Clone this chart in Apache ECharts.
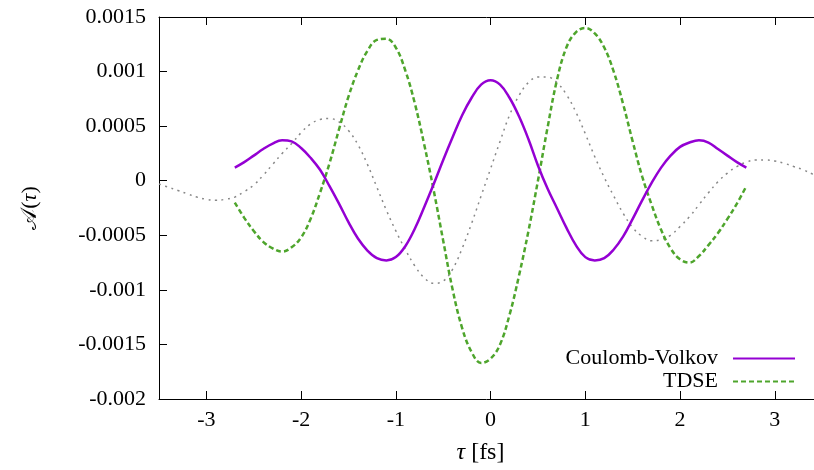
<!DOCTYPE html>
<html>
<head>
<meta charset="utf-8">
<script src="https://cdn.jsdelivr.net/npm/echarts@6/dist/echarts.min.js"></script>
<style>html,body{margin:0;padding:0;background:#fff}#c{width:814px;height:470px}</style>
</head>
<body>
<div id="c"></div>
<script>
// x tick labels and y ticks
const xTicks = [-3, -2, -1, 0, 1, 2, 3];
const yTicks = [-0.002, -0.0015, -0.001, -0.0005, 0, 0.0005, 0.001, 0.0015];

// Coulomb-Volkov
const tauCV = [-2.7,-2.6,-2.5,-2.4,-2.3,-2.2,-2.1,-2.0,-1.9,-1.8,-1.7,-1.6,-1.5,-1.4,-1.3,-1.2,-1.1,-1.0,-0.9,-0.8,-0.7,-0.6,-0.5,-0.4,-0.3,-0.2,-0.1,0,0.1,0.2,0.3,0.4,0.5,0.6,0.7,0.8,0.9,1.0,1.1,1.2,1.3,1.4,1.5,1.6,1.7,1.8,1.9,2.0,2.1,2.2,2.3,2.4,2.5,2.6,2.7];
const cv = [0.00012,0.00017,0.00023,0.00029,0.00034,0.00037,0.00036,0.00030,0.00021,0.00010,-0.00005,-0.00021,-0.00038,-0.00053,-0.00064,-0.00071,-0.00073,-0.00070,-0.00060,-0.00044,-0.00024,-0.00003,0.00019,0.00040,0.00060,0.00076,0.00088,0.00092,0.00088,0.00076,0.00059,0.00038,0.00014,-0.00007,-0.00025,-0.00043,-0.00059,-0.00070,-0.00073,-0.00071,-0.00063,-0.00051,-0.00035,-0.00018,-0.00002,0.00012,0.00023,0.00031,0.00035,0.00037,0.00035,0.00029,0.00023,0.00017,0.00012];

// TDSE
const tauTDSE = [-2.7,-2.6,-2.5,-2.4,-2.3,-2.2,-2.1,-2.0,-1.9,-1.8,-1.7,-1.6,-1.5,-1.4,-1.3,-1.2,-1.1,-1.0,-0.9,-0.8,-0.7,-0.6,-0.5,-0.4,-0.3,-0.2,-0.1,0,0.1,0.2,0.3,0.4,0.5,0.6,0.7,0.8,0.9,1.0,1.1,1.2,1.3,1.4,1.5,1.6,1.7,1.8,1.9,2.0,2.1,2.2,2.3,2.4,2.5,2.6,2.7];
const tdse = [-0.00020,-0.00034,-0.00046,-0.00056,-0.00062,-0.00065,-0.00061,-0.00052,-0.00035,-0.00011,0.00016,0.00047,0.00077,0.00101,0.00119,0.00129,0.00130,0.00122,0.00101,0.00071,0.00033,-0.00009,-0.00055,-0.00100,-0.00135,-0.00157,-0.00167,-0.00163,-0.00150,-0.00123,-0.00087,-0.00046,0.00000,0.00048,0.00092,0.00122,0.00136,0.00140,0.00135,0.00122,0.00100,0.00070,0.00036,0.00004,-0.00022,-0.00045,-0.00062,-0.00072,-0.00075,-0.00069,-0.00059,-0.00048,-0.00035,-0.00021,-0.00005];

// reference (grey dotted) curve
const tauRef = [-3.5,-3.4,-3.3,-3.2,-3.1,-3.0,-2.9,-2.8,-2.7,-2.6,-2.5,-2.4,-2.3,-2.2,-2.1,-2.0,-1.9,-1.8,-1.7,-1.6,-1.5,-1.4,-1.3,-1.2,-1.1,-1.0,-0.9,-0.8,-0.7,-0.6,-0.5,-0.4,-0.3,-0.2,-0.1,0,0.1,0.2,0.3,0.4,0.5,0.6,0.7,0.8,0.9,1.0,1.1,1.2,1.3,1.4,1.5,1.6,1.7,1.8,1.9,2.0,2.1,2.2,2.3,2.4,2.5,2.6,2.7,2.8,2.9,3.0,3.1,3.2,3.3,3.4,3.5];
const ref = [-0.00003,-0.00006,-0.00009,-0.00012,-0.00015,-0.00017,-0.00018,-0.00017,-0.00015,-0.00010,-0.00004,0.00005,0.00015,0.00025,0.00034,0.00044,0.00052,0.00056,0.00057,0.00054,0.00046,0.00033,0.00015,-0.00006,-0.00027,-0.00046,-0.00063,-0.00078,-0.00089,-0.00094,-0.00092,-0.00081,-0.00062,-0.00039,-0.00014,0.00011,0.00036,0.00060,0.00078,0.00090,0.00095,0.00095,0.00090,0.00079,0.00063,0.00043,0.00022,0.00003,-0.00014,-0.00030,-0.00043,-0.00051,-0.00055,-0.00054,-0.00050,-0.00042,-0.00033,-0.00022,-0.00011,-0.00001,0.00007,0.00013,0.00017,0.00019,0.00019,0.00018,0.00016,0.00013,0.00010,0.00006,0.00002];

const zip = (a, b) => a.map((v, i) => [v, b[i]]);
const FONT = "'Liberation Serif','Times New Roman',serif";

const chart = echarts.init(document.getElementById('c'), null, {renderer: 'canvas'});
chart.setOption({
  animation: false,
  backgroundColor: '#fff',
  grid: {left: 159, right: 0, top: 17, bottom: 71, containLabel: false},
  legend: {
    orient: 'vertical', right: 13, top: 342, align: 'right',
    itemWidth: 62, itemHeight: 14, itemGap: 0,
    data: ['Coulomb-Volkov', 'TDSE'],
    itemStyle: {color: 'rgba(0,0,0,0)', borderColor: 'rgba(0,0,0,0)', borderWidth: 0, opacity: 0},
    textStyle: {fontFamily: FONT, fontSize: 22, color: '#000', lineHeight: 23, padding: [0, 10, 0, 0]}
  },
  xAxis: [{
    type: 'value', position: 'bottom', min: -3.5, max: 3.414,
    axisLine: {show: true, onZero: false, lineStyle: {color: '#000', width: 1}},
    axisTick: {show: true, inside: true, length: 8, customValues: xTicks, lineStyle: {color: '#000'}},
    axisLabel: {customValues: xTicks, margin: 10, fontFamily: FONT, fontSize: 22, color: '#000', formatter: v => String(v)},
    splitLine: {show: false},
    name: '{i|τ} [fs]', nameLocation: 'middle', nameGap: 42,
    nameTextStyle: {fontFamily: FONT, fontSize: 24, color: '#000', padding: [0, 12, 0, 0],
      rich: {i: {fontFamily: FONT, fontSize: 24, fontStyle: 'italic', color: '#000'}}}
  }, {
    type: 'value', position: 'top', min: -3.5, max: 3.414,
    axisLine: {show: true, onZero: false, lineStyle: {color: '#000', width: 1}},
    axisTick: {show: true, inside: true, length: 8, customValues: xTicks, lineStyle: {color: '#000'}},
    axisLabel: {show: false}, splitLine: {show: false}
  }],
  yAxis: [{
    type: 'value', min: -0.002, max: 0.0015, interval: 0.0005,
    axisLine: {show: true, onZero: false, lineStyle: {color: '#000', width: 1}},
    axisTick: {show: true, inside: true, length: 8, lineStyle: {color: '#000'}},
    axisLabel: {margin: 13, fontFamily: FONT, fontSize: 22, color: '#000', formatter: v => String(+v.toFixed(4))},
    splitLine: {show: false},
    name: '𝒜({i|τ})', nameLocation: 'middle', nameGap: 118, nameRotate: 90,
    nameTextStyle: {fontFamily: FONT, fontSize: 22, color: '#000',
      rich: {i: {fontFamily: FONT, fontSize: 22, fontStyle: 'italic', color: '#000'}}}
  }],
  series: [{
    name: 'Coulomb-Volkov', type: 'line', data: zip(tauCV, cv), smooth: 0.4, symbol: 'none',
    lineStyle: {color: '#9400d3', width: 2.5}, itemStyle: {color: '#9400d3'}, z: 3
  }, {
    name: 'TDSE', type: 'line', data: zip(tauTDSE, tdse), smooth: 0.4, symbol: 'none',
    lineStyle: {color: '#4ea52c', width: 2.5, type: [5, 3]}, itemStyle: {color: '#4ea52c'}, z: 2
  }, {
    name: 'reference', type: 'line', data: zip(tauRef, ref), smooth: 0.4, symbol: 'none',
    lineStyle: {color: '#888888', width: 1.5, type: [2, 4.5]}, itemStyle: {color: '#888888'}, z: 1
  }]
});
</script>
</body>
</html>
